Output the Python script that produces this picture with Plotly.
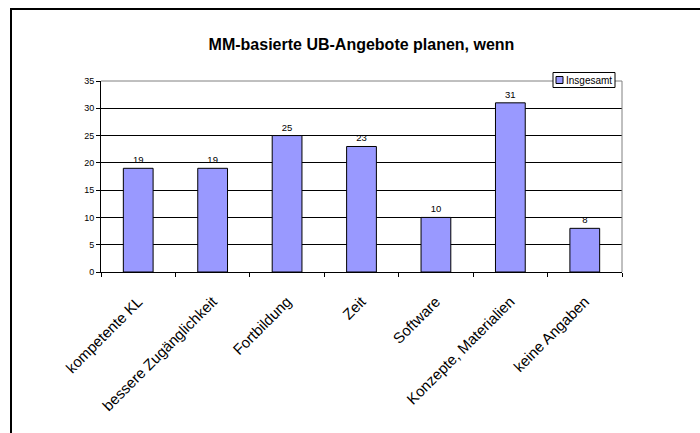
import plotly.graph_objects as go

categories = ["kompetente KL", "bessere Zugänglichkeit", "Fortbildung", "Zeit",
              "Software", "Konzepte, Materialien", "keine Angaben"]
values = [19, 19, 25, 23, 10, 31, 8]
series_name = "Insgesamt"
title_text = "MM-basierte UB-Angebote planen, wenn"
y_ticks = [0, 5, 10, 15, 20, 25, 30, 35]

FONT = "Arial, Liberation Sans, sans-serif"
W, H = 700, 433
ML, MR, MT, MB = 101, 78, 81, 161
PW, PH = W - ML - MR, H - MT - MB

def px_x(p):
    return (p - ML) / PW

def px_y(p):
    return 1 - (p - MT) / PH

fig = go.Figure()
fig.add_trace(go.Bar(
    x=categories, y=values, name=series_name,
    marker=dict(color="#9999FF", line=dict(color="#000000", width=1)),
    text=values, textposition="outside", cliponaxis=False,
    textfont=dict(family=FONT, size=9.5, color="#000000"),
    showlegend=False,
))

shapes = [
    # outer chart frame
    dict(type="rect", xref="paper", yref="paper",
         x0=px_x(11), x1=px_x(720), y0=px_y(9), y1=px_y(450),
         line=dict(color="#000000", width=2), layer="below"),
    # plot area border (top and right, gray)
    dict(type="line", xref="paper", yref="paper", x0=0, x1=1, y0=1, y1=1,
         line=dict(color="#808080", width=1)),
    dict(type="line", xref="paper", yref="paper", x0=1, x1=1, y0=0, y1=1,
         line=dict(color="#808080", width=1)),
    # legend box
    dict(type="rect", xref="paper", yref="paper",
         x0=px_x(553), x1=px_x(615), y0=px_y(72.5), y1=px_y(87.5),
         line=dict(color="#000000", width=1), fillcolor="#FFFFFF"),
    dict(type="rect", xref="paper", yref="paper",
         x0=px_x(556), x1=px_x(563), y0=px_y(76.5), y1=px_y(83.5),
         line=dict(color="#000000", width=1), fillcolor="#9999FF"),
]

annotations = [
    dict(text=series_name, xref="paper", yref="paper", x=px_x(564), y=px_y(80),
         xanchor="left", yanchor="middle", showarrow=False,
         font=dict(family=FONT, size=10, color="#000000")),
]

fig.update_layout(
    width=W, height=H,
    margin=dict(l=ML, r=MR, t=MT, b=MB, pad=0),
    paper_bgcolor="#FFFFFF", plot_bgcolor="#FFFFFF",
    title=dict(text="<b>" + title_text + "</b>", x=0.5, xref="paper",
               xanchor="center", y=1 - 44 / H, yanchor="middle",
               font=dict(family=FONT, size=16, color="#000000")),
    bargap=0.6,
    shapes=shapes, annotations=annotations,
    font=dict(family=FONT, color="#000000"),
)
fig.update_xaxes(
    type="category", tickangle=-45, tickson="boundaries",
    ticks="outside", ticklen=4, tickcolor="#000000",
    showline=True, linecolor="#000000", linewidth=1, ticklabelstandoff=14,
    showgrid=False, tickfont=dict(family=FONT, size=15, color="#000000"),
)
fig.update_yaxes(
    range=[0, 35], tickvals=y_ticks, ticks="outside", ticklen=4,
    tickcolor="#000000", showline=True, linecolor="#000000", linewidth=1,
    showgrid=True, gridcolor="#000000", gridwidth=1, zeroline=False,
    tickfont=dict(family=FONT, size=9, color="#000000"),
)

fig.write_html("out.html")
